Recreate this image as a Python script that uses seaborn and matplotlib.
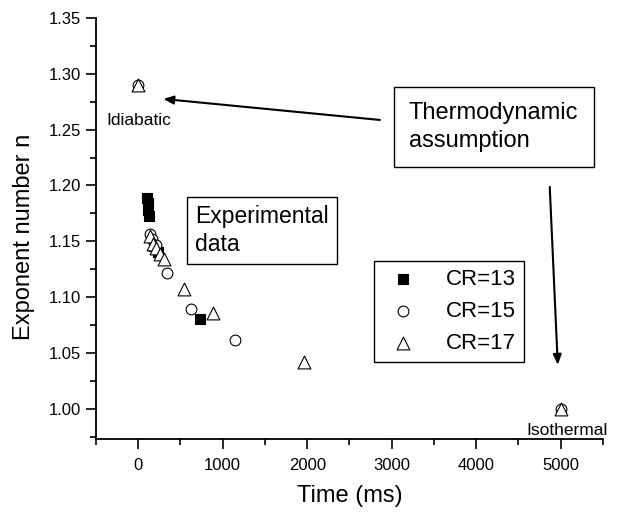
import matplotlib
matplotlib.use("Agg")
import matplotlib.pyplot as plt
from matplotlib.ticker import MultipleLocator, FormatStrFormatter
import seaborn as sns
import pandas as pd

# ---- data ----
cr13_time = [103, 112, 120, 128, 190, 230, 733]
cr13_n = [1.189, 1.184, 1.178, 1.173, 1.146, 1.140, 1.080]

cr15_time = [0, 134, 165, 205, 339, 626, 1147, 5000]
cr15_n = [1.290, 1.157, 1.152, 1.147, 1.122, 1.0895, 1.062, 1.000]

cr17_time = [0, 142, 173, 213, 260, 307, 544, 879, 1962, 5000]
cr17_n = [1.290, 1.155, 1.148, 1.144, 1.139, 1.134, 1.107, 1.086, 1.042, 1.000]

series_labels = ["CR=13", "CR=15", "CR=17"]
x_label = "Time (ms)"
y_label = "Exponent number n"

sns.set_style("ticks")
plt.rcParams["font.family"] = ["Liberation Sans", "DejaVu Sans"]
plt.rcParams["text.color"] = "black"
plt.rcParams["axes.labelcolor"] = "black"
plt.rcParams["xtick.color"] = "black"
plt.rcParams["ytick.color"] = "black"
plt.rcParams["xtick.direction"] = "out"
plt.rcParams["ytick.direction"] = "out"

fig = plt.figure(figsize=(6.18, 5.17), dpi=100)
ax = fig.add_axes([0.1553, 0.1509, 0.8204, 0.8143])

frames = [
    pd.DataFrame({"time": cr13_time, "n": cr13_n}),
    pd.DataFrame({"time": cr15_time, "n": cr15_n}),
    pd.DataFrame({"time": cr17_time, "n": cr17_n}),
]
styles = [
    dict(marker="s", s=52, facecolor="black", edgecolor="black"),
    dict(marker="o", s=60, facecolor="white", edgecolor="black"),
    dict(marker="^", s=85, facecolor="white", edgecolor="black"),
]
for df, lab, st in zip(frames, series_labels, styles):
    sns.scatterplot(data=df, x="time", y="n", ax=ax, label=lab,
                    linewidth=0.8, zorder=3, **st)

ax.set_xlim(-500, 5500)
ax.set_ylim(0.973, 1.35)
ax.xaxis.set_major_locator(MultipleLocator(1000))
ax.xaxis.set_minor_locator(MultipleLocator(500))
ax.yaxis.set_major_locator(MultipleLocator(0.05))
ax.yaxis.set_minor_locator(MultipleLocator(0.025))
ax.yaxis.set_major_formatter(FormatStrFormatter("%.2f"))
ax.tick_params(which="major", length=7, width=1.2, labelsize=12, pad=4, colors="black")
ax.tick_params(which="minor", length=4, width=1.2, colors="black")
ax.tick_params(axis="x", which="major", pad=7)
for sp in ["top", "right"]:
    ax.spines[sp].set_visible(False)
for sp in ["left", "bottom"]:
    ax.spines[sp].set_linewidth(1.3)
    ax.spines[sp].set_color("black")

ax.set_xlabel(x_label, fontsize=17, labelpad=8)
ax.set_ylabel(y_label, fontsize=17)
ax.yaxis.set_label_coords(-0.12, 0.48)

leg = ax.legend(loc="lower left", bbox_to_anchor=(0.548, 0.183), borderaxespad=0,
                fontsize=16, frameon=True, fancybox=False, framealpha=1,
                edgecolor="black", handletextpad=1.0, labelspacing=0.5,
                borderpad=0.35, handlelength=1.9)
leg.get_frame().set_linewidth(1.0)

# annotations
ax.text(3203, 1.2524, "Thermodynamic\nassumption", fontsize=17, ha="left", va="center",
        linespacing=1.35,
        bbox=dict(boxstyle="square,pad=0.65", facecolor="white", edgecolor="black", linewidth=1.0))
ax.text(674, 1.1598, "Experimental\ndata", fontsize=16.5, ha="left", va="center",
        linespacing=1.3,
        bbox=dict(boxstyle="square,pad=0.35", facecolor="white", edgecolor="black", linewidth=1.0))
ax.text(12, 1.258, "Idiabatic", fontsize=12.5, ha="center", va="center")
ax.text(5077, 0.981, "Isothermal", fontsize=12.5, ha="center", va="center", clip_on=False)

arrow = dict(arrowstyle="-|>,head_length=0.6,head_width=0.25", color="black", lw=1.5,
             shrinkA=0, shrinkB=0)
ax.annotate("", xy=(296, 1.2775), xytext=(2860, 1.2587), arrowprops=arrow)
ax.annotate("", xy=(4965, 1.0394), xytext=(4870, 1.1987), arrowprops=arrow)

fig.savefig("out.png", dpi=100)
